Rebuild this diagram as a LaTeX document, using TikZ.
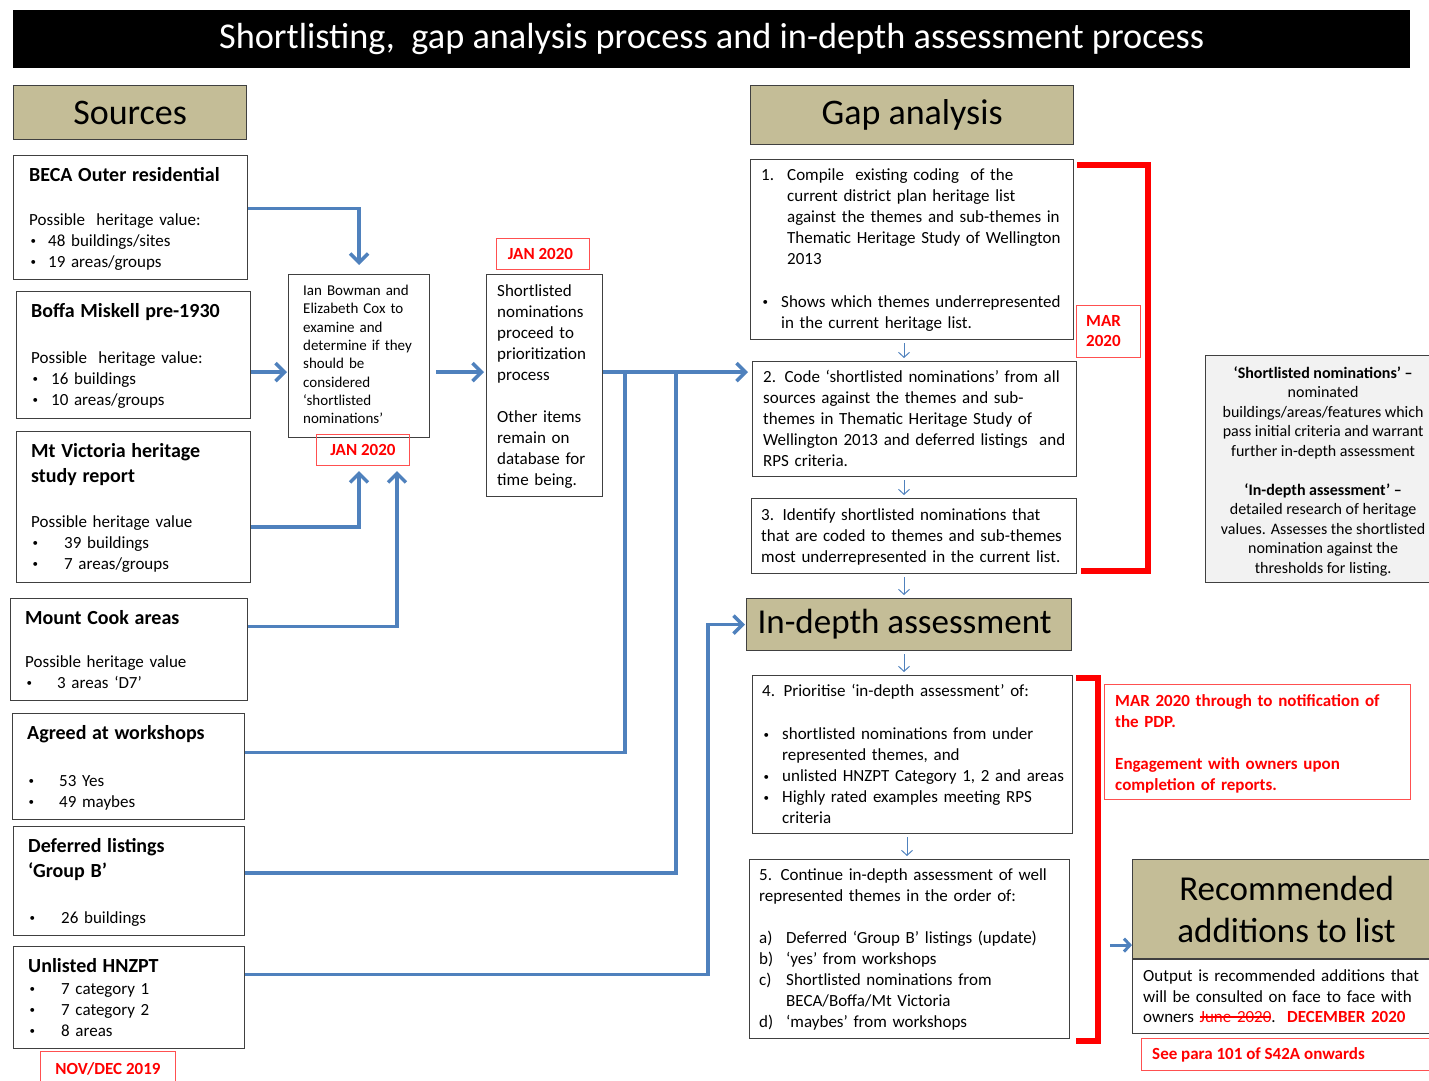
\documentclass[tikz,border=0pt]{standalone}
\usepackage{fontspec}
\setmainfont{Carlito}
\usetikzlibrary{arrows.meta,calc}

\definecolor{flowblue}{HTML}{4F81BD}
\definecolor{headtan}{HTML}{C4BD97}
\definecolor{notegrey}{HTML}{F2F2F2}
\definecolor{rimgrey}{HTML}{404040}
\definecolor{datered}{HTML}{FF0000}
\definecolor{daterim}{HTML}{FF5050}

\setlength\parindent{0pt}
\newcommand\fs[2]{\fontsize{#1pt}{#2pt}\selectfont}
\newcommand\hd[1]{{\fs{20}{25}\bfseries #1\par}}
\newcommand\bdot{\raisebox{1.8pt}{\fs{11}{11}\textbullet}}
\newcommand\bul[2][19]{\makebox[#1pt][l]{\hspace{1.5pt}\bdot}#2}
\newcommand\lab[2]{\makebox[#1pt][l]{#2}}
\newcommand\struck[1]{\setbox0\hbox{#1}\rlap{\rule[0.3em]{\wd0}{1.2pt}}\box0}

\tikzset{
  panel/.style={draw=rimgrey, line width=1.2pt, fill=white, inner sep=0pt, anchor=north west},
  head/.style={draw=rimgrey, line width=1.2pt, fill=headtan, inner sep=0pt, anchor=north west,
    align=center, font=\fs{35}{42}},
  body/.style={inner sep=0pt, anchor=north west, align=left, text width=330pt, font=\fs{17}{21}},
  datebox/.style={draw=daterim, line width=1pt, inner sep=0pt, anchor=north west,
    text=datered, font=\fs{17}{20}\bfseries},
  flow/.style={draw=flowblue, line width=3.5pt, -{Straight Barb[length=9pt,width=18pt]}},
  flowline/.style={draw=flowblue, line width=3.5pt},
  stepline/.style={draw=flowblue, line width=1pt, -{Straight Barb[length=5pt,width=11pt]},
    shorten <=3pt, shorten >=3pt},
  bracket/.style={draw=datered, line width=6.5pt},
}

\begin{document}
\begin{tikzpicture}[x=1pt, y=-1pt]
\useasboundingbox (0,0) rectangle (1429,1081);

% title bar and section headings
\node[fill=black, inner sep=0pt, anchor=north west, minimum width=1397pt, minimum height=58pt,
  text=white, font=\fs{36.3}{40}] (title) at (13,10)
  {Shortlisting,\ \ gap analysis process and in-depth assessment process};
\node[head, minimum width=233pt, minimum height=54pt, font=\fs{36}{42}] (sources) at (13,85) {Sources};
\node[head, minimum width=323pt, minimum height=59pt, font=\fs{36}{42}] (gap) at (750,85) {\raisebox{-2pt}{Gap analysis}};
\node[head, minimum width=325pt, minimum height=52pt, font=\fs{35}{42}] (indepth) at (746,598) {\hspace*{-9pt}In-depth assessment};
\node[head, minimum width=308pt, minimum height=99pt] (rechead) at (1132,859) {Recommended\\ additions to list};

% sources
\node[panel, minimum width=234pt, minimum height=124pt] (beca) at (13,155) {};
\node[body, xshift=16pt, yshift=-12pt] (beca-text) at (beca.north west)
  {\hd{BECA Outer residential}\vspace{23pt}
   Possible\ \ heritage value:\\ \bul{48 buildings/sites}\\ \bul{19 areas/groups}};

\node[panel, minimum width=234pt, minimum height=127pt] (boffa) at (16,291) {};
\node[body, xshift=15pt, yshift=-12pt] (boffa-text) at (boffa.north west)
  {\hd{Boffa Miskell pre-1930}\vspace{25pt}
   Possible\ \ heritage value:\\ \bul[20]{16 buildings}\\ \bul[20]{10 areas/groups}};

\node[panel, minimum width=234pt, minimum height=151pt] (mtvic) at (16,431) {};
\node[body, xshift=15pt, yshift=-12pt] (mtvic-text) at (mtvic.north west)
  {\hd{Mt Victoria heritage\\ study report}\vspace{24pt}
   Possible heritage value\\ \bul[33]{39 buildings}\\ \bul[33]{7 areas/groups}};

\node[panel, minimum width=237pt, minimum height=102pt] (cook) at (10,598) {};
\node[body, xshift=15pt, yshift=-12pt] (cook-text) at (cook.north west)
  {\hd{Mount Cook areas}\vspace{22pt}
   Possible heritage value\\ \bul[32]{3 areas ‘D7’}};

\node[panel, minimum width=232pt, minimum height=106pt] (agreed) at (12,713) {};
\node[body, xshift=15pt, yshift=-12pt] (agreed-text) at (agreed.north west)
  {\hd{Agreed at workshops}\vspace{26pt}
   \bul[32]{53 Yes}\\ \bul[32]{49 maybes}};

\node[panel, minimum width=231pt, minimum height=109pt] (deferred) at (13,826) {};
\node[body, xshift=15pt, yshift=-12pt] (deferred-text) at (deferred.north west)
  {\hd{Deferred listings\\ ‘Group B’}\vspace{25pt}
   \bul[33]{26 buildings}};

\node[panel, minimum width=231pt, minimum height=102pt] (unlisted) at (13,946) {};
\node[body, xshift=15pt, yshift=-12pt] (unlisted-text) at (unlisted.north west)
  {\hd{Unlisted HNZPT}\vspace{1pt}
   \bul[33]{7 category 1}\\ \bul[33]{7 category 2}\\ \bul[33]{8 areas}};

\node[datebox, minimum width=135pt, minimum height=34pt] (novdec) at (40,1051) {NOV/DEC 2019};

% shortlisting
\node[panel, minimum width=141pt, minimum height=163pt] (ian) at (288,274) {};
\node[body, font=\fs{15}{18.3}, xshift=15pt, yshift=-11pt] (ian-text) at (ian.north west)
  {Ian Bowman and\\ Elizabeth Cox to\\ examine and\\ determine if they\\ should be\\
   considered\\ ‘shortlisted\\ nominations’};
\node[datebox, minimum width=93pt, minimum height=31pt] (jan1) at (316,434) {JAN 2020};

\node[panel, minimum width=116pt, minimum height=222pt] (short) at (486,274) {};
\node[body, xshift=11pt, yshift=-10pt] (short-text) at (short.north west)
  {Shortlisted\\ nominations\\ proceed to\\ prioritization\\ process\\[21pt]
   Other items\\ remain on\\ database for\\ time being.};
\node[datebox, minimum width=93pt, minimum height=31pt] (jan2) at (496,238) {\hspace*{-5pt}JAN 2020};

% gap analysis steps
\node[panel, minimum width=323pt, minimum height=180pt] (g1) at (750,159) {};
\node[body, xshift=11pt, yshift=-9.5pt] (g1-text) at (g1.north west)
  {\lab{26}{1.}Compile\ \ existing coding\ \ of the\\
   \hspace*{26pt}current district plan heritage list\\
   \hspace*{26pt}against the themes and sub-themes in\\
   \hspace*{26pt}Thematic Heritage Study of Wellington\\
   \hspace*{26pt}2013\\[22pt]
   \bul[20]{Shows which themes underrepresented}\\
   \hspace*{20pt}in the current heritage list.};

\node[panel, minimum width=324pt, minimum height=115pt] (g2) at (752,361) {};
\node[body, xshift=11pt, yshift=-9pt] (g2-text) at (g2.north west)
  {2. Code ‘shortlisted nominations’ from all\\ sources against the themes and sub-\\
   themes in Thematic Heritage Study of\\ Wellington 2013 and deferred listings\ \ and\\
   RPS criteria.};

\node[panel, minimum width=325pt, minimum height=75pt] (g3) at (751,498) {};
\node[body, xshift=10pt, yshift=-10.5pt] (g3-text) at (g3.north west)
  {3. Identify shortlisted nominations that\\ that are coded to themes and sub-themes\\
   most underrepresented in the current list.};

\node[datebox, minimum width=64pt, minimum height=52pt] (mar) at (1076,305) {};
\node[inner sep=0pt, anchor=north west, align=left, text=datered, font=\fs{17}{20}\bfseries,
  xshift=10pt, yshift=-10.5pt] (mar-text) at (mar.north west) {MAR\\ 2020};

% definitions
\node[panel, fill=notegrey, minimum width=235pt, minimum height=227pt] (note) at (1205,355) {};
\node[inner sep=0pt, anchor=north, align=center, font=\fs{16}{19.5}, yshift=-11pt] (note-text) at (note.north)
  {\textbf{‘Shortlisted nominations’ –}\\ nominated\\ buildings/areas/features which\\
   pass initial criteria and warrant\\ further in-depth assessment\\[19.5pt]
   \textbf{‘In-depth assessment’ –}\\ detailed research of heritage\\
   values. Assesses the shortlisted\\ nomination against the\\ thresholds for listing.};

% in-depth assessment steps
\node[panel, minimum width=320pt, minimum height=158pt] (g4) at (752,675) {};
\node[body, xshift=10pt, yshift=-9.5pt] (g4-text) at (g4.north west)
  {4. Prioritise ‘in-depth assessment’ of:\\[22pt]
   \bul[20]{shortlisted nominations from under}\\ \hspace*{20pt}represented themes, and\\
   \bul[20]{unlisted HNZPT Category 1, 2 and areas}\\
   \bul[20]{Highly rated examples meeting RPS}\\ \hspace*{20pt}criteria};

\node[panel, minimum width=320pt, minimum height=179pt] (g5) at (749,859) {};
\node[body, xshift=10pt, yshift=-9.5pt] (g5-text) at (g5.north west)
  {5. Continue in-depth assessment of well\\ represented themes in the order of:\\[21pt]
   \lab{27}{a)}Deferred ‘Group B’ listings (update)\\
   \lab{27}{b)}‘yes’ from workshops\\
   \lab{27}{c)}Shortlisted nominations from\\ \hspace*{27pt}BECA/Boffa/Mt Victoria\\
   \lab{27}{d)}‘maybes’ from workshops};

\node[datebox, minimum width=306pt, minimum height=115pt] (engage) at (1104,684) {};
\node[body, text=datered, font=\fs{17}{21}\bfseries, xshift=11pt, yshift=-10pt] (engage-text) at (engage.north west)
  {MAR 2020 through to notification of\\ the PDP.\\[21pt] Engagement with owners upon\\ completion of reports.};

% output
\node[panel, minimum width=308pt, minimum height=74pt] (output) at (rechead.south west) {};
\node[body, font=\fs{17}{20.5}, xshift=11pt, yshift=-10.5pt] (output-text) at (output.north west)
  {Output is recommended additions that\\ will be consulted on face to face with\\
   owners \textcolor{datered}{\struck{June 2020}}.\ \ \textcolor{datered}{\bfseries DECEMBER 2020}};

\node[datebox, minimum width=300pt, minimum height=32pt] (para) at (1141,1038) {};
\node[inner sep=0pt, anchor=west, xshift=11pt, text=datered, font=\fs{17}{20}\bfseries] (para-text) at (para.west)
  {See para 101 of S42A onwards};

% sources into the shortlisting
\coordinate (boffa-out) at ([yshift=-17pt]boffa.east);
\coordinate (trunk) at (boffa-out -| short.east);
\draw[flow, shorten >=9pt] ([yshift=9pt]beca.east) -| (ian.north);
\draw[flow, shorten >=1pt] (boffa-out) -- (boffa-out -| ian.west);
\draw[flow, shorten >=5pt] ([yshift=-20pt]mtvic.east) -| ($(jan1.south)+(-4,0)$);
\draw[flow, shorten >=5pt] ([yshift=23pt]cook.east) -| ($(jan1.south)+(34,0)$);
\draw[flow, shorten >=2pt] ($(boffa-out -| ian.east)+(6,0)$) -- (boffa-out -| short.west);

% on to the gap analysis
\draw[flow, shorten >=4pt] (trunk) -- (trunk -| g2.west);
\draw[flowline] ([yshift=14pt]agreed.east) -| ($(trunk)+(22,0)$);
\draw[flowline] ([yshift=8pt]deferred.east) -| ($(trunk)+(73,0)$);
\draw[flow, shorten >=1pt] ([yshift=23pt]unlisted.east) -| ($(indepth.west)+(-38,0)$) -- (indepth.west);

% step to step
\coordinate (spine) at (904,0);
\draw[stepline] (spine |- g1.south) -- (spine |- g2.north);
\draw[stepline] (spine |- g2.south) -- (spine |- g3.north);
\draw[stepline] (spine |- g3.south) -- (spine |- indepth.north);
\draw[stepline] (spine |- indepth.south) -- (spine |- g4.north);
\draw[stepline] ($(spine |- g4.south)+(3,0)$) -- ($(spine |- g5.north)+(3,0)$);
\draw[flow, line width=3pt, -{Straight Barb[length=6pt,width=13pt]}]
  ([shift={(-22pt,-36pt)}]rechead.west) -- ([yshift=-36pt]rechead.west);

% timing brackets
\draw[bracket] ([shift={(3pt,-6pt)}]g1.north east) -| ([shift={(71pt,3pt)}]g3.south east)
  -- ([shift={(4pt,3pt)}]g3.south east);
\draw[bracket] ([shift={(3pt,-3pt)}]g4.north east) -| ([shift={(28pt,-2pt)}]g5.south east)
  -- ([shift={(6pt,-2pt)}]g5.south east);

\end{tikzpicture}
\end{document}
